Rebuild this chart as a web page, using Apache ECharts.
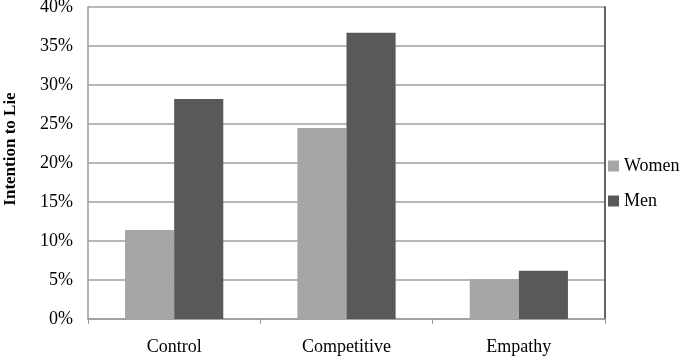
<!DOCTYPE html>
<html>
<head>
<meta charset="utf-8">
<script src="https://cdn.jsdelivr.net/npm/echarts@6/dist/echarts.min.js"></script>
<style>
  html, body { margin: 0; padding: 0; background: #fff; }
  #chart { width: 685px; height: 357px; }
</style>
</head>
<body>
<div id="chart"></div>
<script>
const categories = ['Control', 'Competitive', 'Empathy']
const women = [0.114, 0.245, 0.051]
const men = [0.282, 0.367, 0.062]

const font = 'Liberation Serif'

const chart = echarts.init(document.getElementById('chart'))

const option = {
  animation: false,
  textStyle: { fontFamily: font },
  grid: { left: 88, right: 80, top: 7, bottom: 38, outerBoundsMode: 'none' },
  legend: {
    orient: 'vertical',
    left: 603,
    top: 152,
    itemWidth: 11,
    itemHeight: 11,
    itemGap: 17,
    icon: 'rect',
    textStyle: { fontFamily: font, fontSize: 18, color: '#000' },
    data: ['Women', 'Men']
  },
  xAxis: {
    type: 'category',
    data: categories,
    axisLine: { lineStyle: { color: '#9a9a9a', width: 1.5 } },
    axisTick: { show: true, length: 5, lineStyle: { color: '#9a9a9a' } },
    axisLabel: { fontFamily: font, fontSize: 18, color: '#000', margin: 19 }
  },
  yAxis: [
    {
      type: 'value',
      min: 0,
      max: 0.4,
      interval: 0.05,
      name: 'Intention to Lie',
      nameLocation: 'middle',
      nameGap: 69,
      nameTextStyle: {
        fontFamily: font,
        fontSize: 17,
        fontWeight: 'bold',
        color: '#000',
        padding: [0, 0, 0, 28]
      },
      axisLine: { show: true, lineStyle: { color: '#9a9a9a', width: 1.5 } },
      axisTick: { show: false },
      splitLine: { lineStyle: { color: '#a0a0a0', width: 1.5 } },
      axisLabel: {
        fontFamily: font,
        fontSize: 18,
        color: '#000',
        margin: 15,
        formatter: v => Math.round(v * 100) + '%'
      }
    },
    {
      type: 'value',
      position: 'right',
      min: 0,
      max: 0.4,
      interval: 0.05,
      axisLine: { show: true, lineStyle: { color: '#333', width: 1.5 } },
      axisTick: { show: false },
      axisLabel: { show: false },
      splitLine: { show: false }
    }
  ],
  series: [
    {
      name: 'Women',
      type: 'bar',
      data: women,
      barGap: '0%',
      barCategoryGap: '43%',
      itemStyle: { color: '#a6a6a6' }
    },
    {
      name: 'Men',
      type: 'bar',
      data: men,
      itemStyle: { color: '#595959' }
    }
  ]
}

chart.setOption(option)
</script>
</body>
</html>
